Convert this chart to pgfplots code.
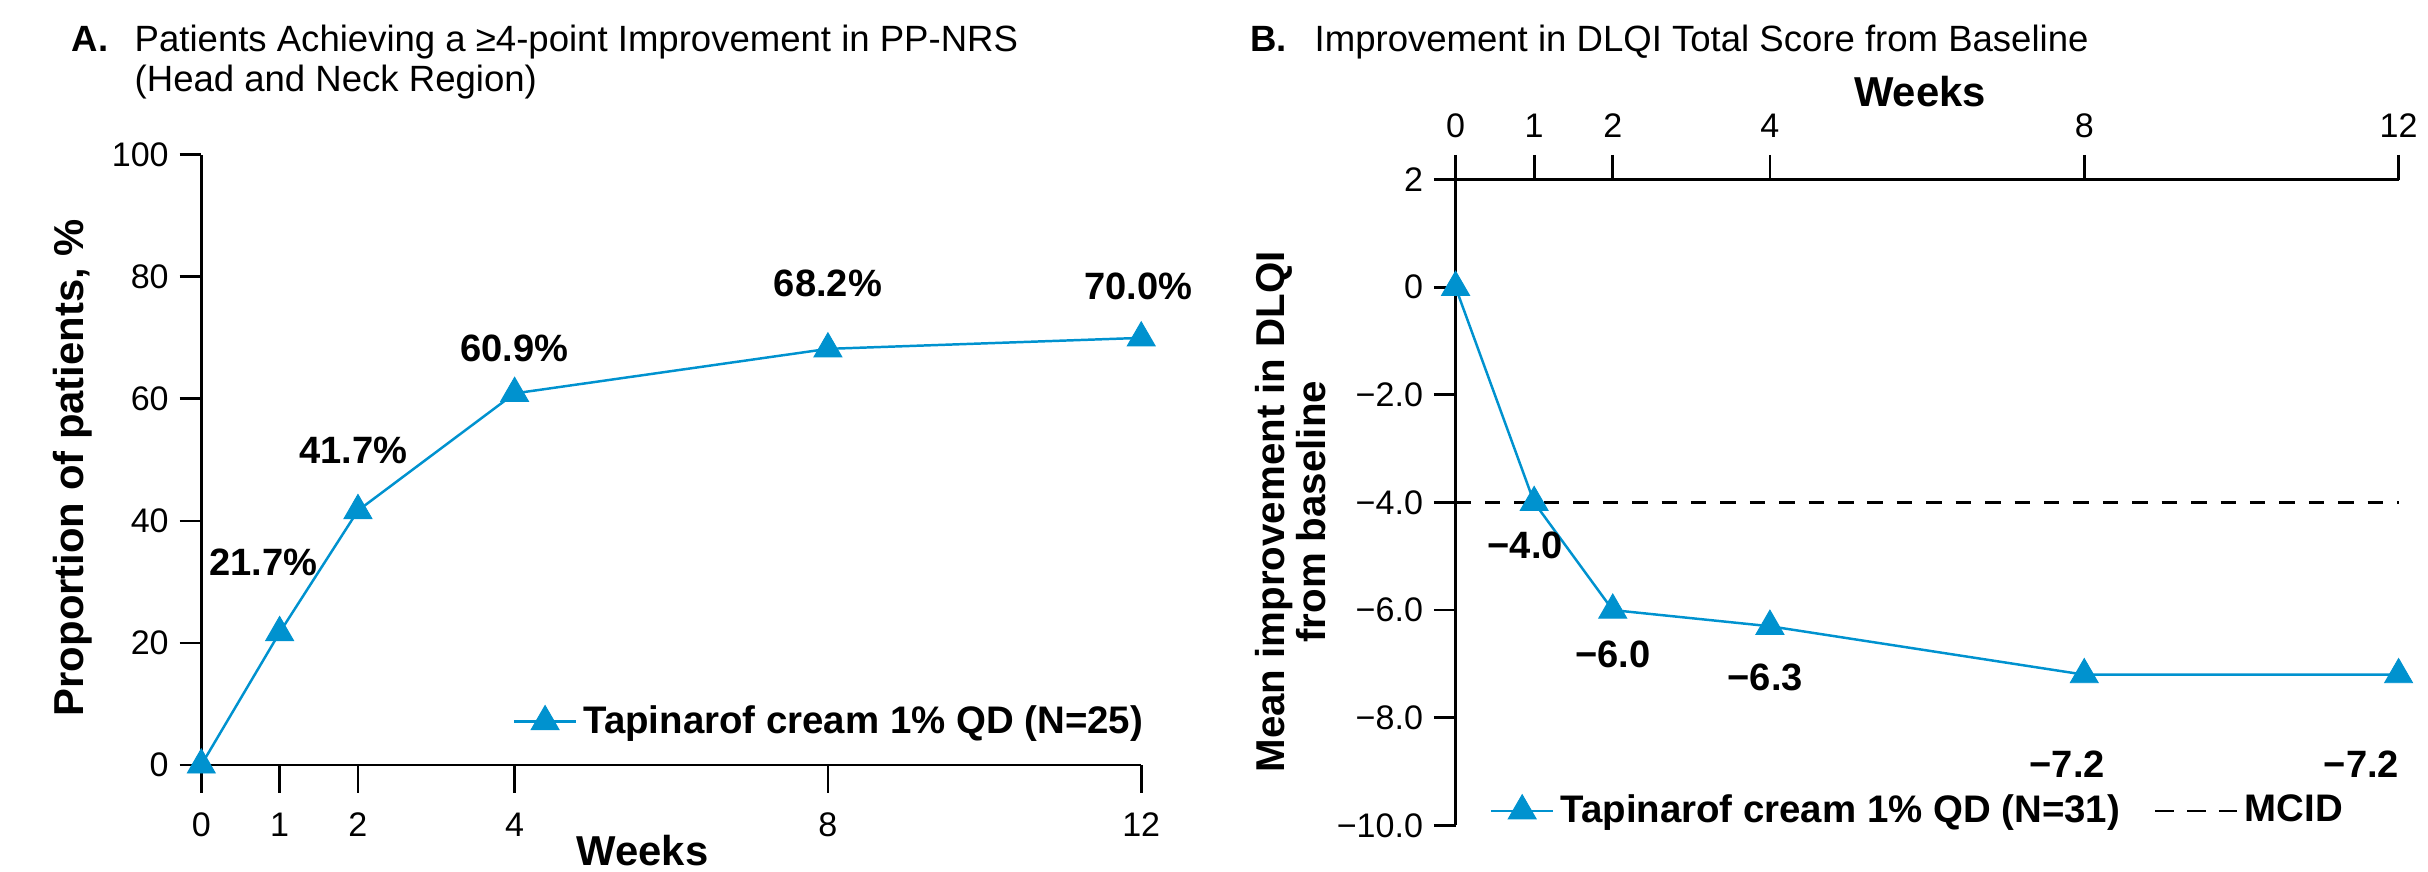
\documentclass[border=0pt]{standalone}
\usepackage{fontspec}
\setmainfont{Liberation Sans}
\usepackage{pgfplots}
\pgfplotsset{compat=1.18}
\definecolor{tblue}{RGB}{0,146,207}
\newcommand{\lab}{\bfseries\fontsize{12.3}{13}\selectfont}
\pgfplotsset{
  common/.style={
    scale only axis,
    xmin=0, xmax=12,
    xtick={0,1,2,4,8,12},
    axis line style={line width=0.9pt},
    tick align=outside,
    major tick length=7pt,
    tick style={line width=0.9pt, black},
    ticklabel style={font=\fontsize{11}{11}\selectfont},
    /pgf/number format/assume math mode=true,
    clip=false,
    legend cell align=left,
  },
  ser/.style={color=tblue, line width=0.8pt, mark=triangle*, mark size=5.2pt,
    mark options={fill=tblue, draw=tblue, line width=0.3pt},
    legend image code/.code={\draw[mark repeat=2,mark phase=2,##1] plot coordinates {(0pt,0pt) (10pt,0pt) (20pt,0pt)};}},
}
\begin{document}
\begin{tikzpicture}
\path[use as bounding box] (0,0) rectangle (784pt,281.5pt);

% ---------------- Panel A ----------------
\begin{axis}[common,
  at={(65pt,34.5pt)}, anchor=south west,
  width=303.5pt, height=197pt,
  ymin=0, ymax=100,
  axis x line*=bottom, axis y line*=left,
  ytick={0,20,40,60,80,100},
  xtick style={/pgfplots/major tick length=9pt},
  xticklabel style={yshift=-5pt},
  legend style={draw=none, fill=none, at={(axis cs:3.97,7.1)}, anchor=west, inner sep=0pt,
    font=\bfseries\fontsize{12.4}{12.4}\selectfont},
]
\addplot[ser] coordinates {(0,0) (1,21.7) (2,41.7) (4,60.9) (8,68.2) (12,70.0)};
\addlegendentry{Tapinarof cream 1\% QD (N=25)}
\node[font=\lab] at (axis cs:1,21.7) [xshift=-5.3pt, yshift=22.75pt] {21.7\%};
\node[font=\lab] at (axis cs:2,41.7) [xshift=-1.5pt, yshift=19.4pt] {41.7\%};
\node[font=\lab] at (axis cs:4,60.9) [yshift=14.5pt] {60.9\%};
\node[font=\lab] at (axis cs:8,68.2) [yshift=21pt] {68.2\%};
\node[font=\lab] at (axis cs:12,70.0) [xshift=-1pt, yshift=16.6pt] {70.0\%};
\end{axis}

% ---------------- Panel B ----------------
\begin{axis}[common,
  at={(470pt,15pt)}, anchor=south west,
  width=304.5pt, height=208.5pt,
  ymin=-10, ymax=2,
  axis x line*=top, axis y line*=left,
  ytick={-10,-8,-6,-4,-2,0,2},
  yticklabels={−10.0,−8.0,−6.0,−4.0,−2.0,0,2},
  xtick style={/pgfplots/major tick length=8pt},
  xticklabel style={yshift=3pt},
  legend columns=2,
  legend style={draw=none, fill=none, at={(axis cs:0.43,-9.73)}, anchor=west, inner sep=0pt,
    font=\bfseries\fontsize{12.4}{12.4}\selectfont,
    /tikz/every even column/.append style={column sep=9pt}},
]
\addplot[ser] coordinates {(0,0) (1,-4.0) (2,-6.0) (4,-6.3) (8,-7.2) (12,-7.2)};
\addlegendentry{Tapinarof cream 1\% QD (N=31)}
\addplot[black, line width=0.8pt, dash pattern=on 5pt off 4.5pt,
  legend image code/.code={\draw[black, line width=0.8pt, dash pattern=on 6pt off 4.25pt] (0pt,0pt) -- (26.5pt,0pt);}]
  coordinates {(0,-4) (12,-4)};
\addlegendentry{MCID}
\node[font=\lab] at (axis cs:1,-4.0) [xshift=-2.9pt, yshift=-14pt] {−4.0};
\node[font=\lab] at (axis cs:2,-6.0) [yshift=-14.25pt] {−6.0};
\node[font=\lab] at (axis cs:4,-6.3) [xshift=-1.5pt, yshift=-16.5pt] {−6.3};
\node[font=\lab] at (axis cs:8,-7.2) [xshift=-5.5pt, yshift=-29pt] {−7.2};
\node[font=\lab] at (axis cs:12,-7.2) [xshift=-12pt, yshift=-29pt] {−7.2};
\end{axis}

% ---------------- Titles and labels ----------------
\node[inner sep=0pt, anchor=base west, font=\bfseries\fontsize{11.8}{13}\selectfont] at (23pt,265pt) {A.};
\node[inner sep=0pt, anchor=base west, font=\fontsize{11.8}{13}\selectfont] at (43.3pt,265pt) {Patients Achieving a ≥4-point Improvement in PP-NRS};
\node[inner sep=0pt, anchor=base west, font=\fontsize{11.8}{13}\selectfont] at (43.3pt,252pt) {(Head and Neck Region)};
\node[inner sep=0pt, anchor=base west, font=\bfseries\fontsize{11.8}{13}\selectfont] at (403.6pt,265pt) {B.};
\node[inner sep=0pt, anchor=base west, font=\fontsize{11.8}{13}\selectfont] at (424.3pt,265pt) {Improvement in DLQI Total Score from Baseline};

\node[rotate=90, font=\bfseries\fontsize{13.5}{15}\selectfont] at (23.5pt,130.5pt) {Proportion of patients, \%};
\node[rotate=90, anchor=base, inner sep=0pt, font=\bfseries\fontsize{13}{15}\selectfont] at (414.75pt,116.25pt) {Mean improvement in DLQI};
\node[rotate=90, anchor=base, inner sep=0pt, font=\bfseries\fontsize{13}{15}\selectfont] at (428pt,116.25pt) {from baseline};

\node[font=\bfseries\fontsize{13.5}{14}\selectfont] at (207.5pt,7pt) {Weeks};
\node[font=\bfseries\fontsize{13.5}{14}\selectfont] at (620pt,252pt) {Weeks};
\end{tikzpicture}
\end{document}
